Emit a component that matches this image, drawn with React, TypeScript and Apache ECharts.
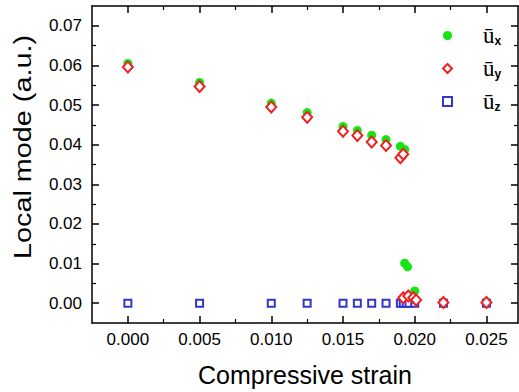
import React, { useEffect, useRef } from "react";
import * as echarts from "echarts";

const uxStrain = [0, 0.005, 0.010, 0.0125, 0.015, 0.016, 0.017, 0.018, 0.019, 0.0193, 0.0193, 0.0195, 0.020, 0.022, 0.025];
const uxValues = [0.0605, 0.0557, 0.0505, 0.0481, 0.0446, 0.0436, 0.0424, 0.0413, 0.0396, 0.0388, 0.0101, 0.0092, 0.0031, 0.0003, 0.0003];

const uyStrain = [0, 0.005, 0.010, 0.0125, 0.015, 0.016, 0.017, 0.018, 0.019, 0.0192, 0.0192, 0.01955, 0.0199, 0.0201, 0.022, 0.025];
const uyValues = [0.0596, 0.0547, 0.0495, 0.0469, 0.0434, 0.0423, 0.0407, 0.0398, 0.0367, 0.0376, 0.0014, 0.0018, 0.0014, 0.0008, 0.0002, 0.0002];

const uzStrain = [0, 0.005, 0.010, 0.0125, 0.015, 0.016, 0.017, 0.018, 0.019, 0.0192, 0.0194, 0.0196, 0.020, 0.022, 0.025];
const uzValues = [0, 0, 0, 0, 0, 0, 0, 0, 0, 0, 0, 0, 0, 0, 0];

const xTicks = ["0.000", "0.005", "0.010", "0.015", "0.020", "0.025"];
const yTicks = ["0.00", "0.01", "0.02", "0.03", "0.04", "0.05", "0.06", "0.07"];
const xMinorTicks = [0.0025, 0.0075, 0.0125, 0.0175, 0.0225];
const yMinorTicks = [0.005, 0.015, 0.025, 0.035, 0.045, 0.055, 0.065];

const seriesNames = ["ux", "uy", "uz"];
const subscripts: Record<string, string> = { ux: "x", uy: "y", uz: "z" };

const pairs = (xs: number[], ys: number[]) => xs.map((x, i) => [x, ys[i]]);

export default function App() {
  const ref = useRef<HTMLDivElement>(null);
  useEffect(() => {
    if (!ref.current) return;
    const chart = echarts.init(ref.current, undefined, { renderer: "svg" });
    const xMajor = xTicks.map((t) => parseFloat(t));
    const yMajor = yTicks.map((t) => parseFloat(t));
    const font = "Liberation Sans, Arial, sans-serif";
    const axisLabelFont = { fontFamily: font, fontSize: 17, color: "#000" };
    const lineOn = { show: true, onZero: false, lineStyle: { color: "#000", width: 1.5 } };
    const lineOff = { show: false, onZero: false };
    const majorTick = (vals: number[]) => ({ show: true, inside: true, length: 7, customValues: vals, lineStyle: { color: "#000", width: 1.5 } });
    const minorTickStyle = (vals: number[]) => ({ show: true, inside: true, length: 4, customValues: vals, lineStyle: { color: "#000", width: 1.2 } });
    const xExt = { type: "value" as const, min: -0.0025, max: 0.0272, splitLine: { show: false } };
    const yExt = { type: "value" as const, min: -0.005, max: 0.075, splitLine: { show: false } };
    const xLabelMap = (v: number) => {
      const i = xMajor.findIndex((m) => Math.abs(m - v) < 1e-9);
      return i >= 0 ? xTicks[i] : "";
    };
    const yLabelMap = (v: number) => {
      const i = yMajor.findIndex((m) => Math.abs(m - v) < 1e-9);
      return i >= 0 ? yTicks[i] : "";
    };
    chart.setOption({
      animation: false,
      backgroundColor: "#fff",
      grid: { left: 92, right: 1, top: 6, bottom: 69, containLabel: false },
      xAxis: [
        {
          ...xExt,
          position: "bottom",
          axisLine: lineOn,
          axisTick: majorTick(xMajor),
          axisLabel: { ...axisLabelFont, margin: 8, customValues: xMajor, formatter: xLabelMap },
          name: "Compressive strain",
          nameLocation: "middle",
          nameGap: 39,
          nameTextStyle: { fontFamily: font, fontSize: 25, color: "#000" },
        },
        { ...xExt, position: "bottom", axisLine: lineOff, axisTick: minorTickStyle(xMinorTicks), axisLabel: { show: false } },
        { ...xExt, position: "top", axisLine: lineOn, axisTick: majorTick(xMajor), axisLabel: { show: false } },
        { ...xExt, position: "top", axisLine: lineOff, axisTick: minorTickStyle(xMinorTicks), axisLabel: { show: false } },
      ],
      yAxis: [
        {
          ...yExt,
          position: "left",
          axisLine: lineOn,
          axisTick: majorTick(yMajor),
          axisLabel: { ...axisLabelFont, margin: 10, customValues: yMajor, formatter: yLabelMap },
        },
        { ...yExt, position: "left", axisLine: lineOff, axisTick: minorTickStyle(yMinorTicks), axisLabel: { show: false } },
        { ...yExt, position: "right", axisLine: lineOn, axisTick: majorTick(yMajor), axisLabel: { show: false } },
        { ...yExt, position: "right", axisLine: lineOff, axisTick: minorTickStyle(yMinorTicks), axisLabel: { show: false } },
      ],
      legend: {
        orient: "vertical",
        left: 437,
        top: 18,
        itemWidth: 9,
        itemHeight: 9,
        itemGap: 9,
        data: seriesNames,
        formatter: (name: string) => `{u|ū}{s|${subscripts[name]}}`,
        textStyle: {
          padding: [0, 0, 0, 26],
          rich: {
            u: { fontFamily: "Liberation Serif, serif", fontSize: 23, color: "#000", lineHeight: 23 },
            s: { fontFamily: font, fontSize: 12, fontWeight: "bold", color: "#000", lineHeight: 23, verticalAlign: "bottom", padding: [12, 0, 0, 0] },
          },
        },
      },
      graphic: [
        {
          type: "text",
          x: 22.5,
          y: 147,
          rotation: Math.PI / 2,
          scaleX: 1.2,
          style: {
            text: "Local mode (a.u.)",
            fontFamily: font,
            fontSize: 24,
            fill: "#000",
            align: "center",
            verticalAlign: "middle",
          },
        },
      ],
      series: [
        {
          name: "ux",
          type: "scatter",
          xAxisIndex: 0,
          yAxisIndex: 0,
          z: 2,
          symbol: "circle",
          symbolSize: 9,
          itemStyle: { color: "#14e614", opacity: 1 },
          data: pairs(uxStrain, uxValues),
        },
        {
          name: "uy",
          type: "scatter",
          xAxisIndex: 0,
          yAxisIndex: 0,
          z: 4,
          symbol: "emptyDiamond",
          symbolSize: [10, 11],
          itemStyle: { color: "#f02020", borderColor: "#f02020", borderWidth: 1.5, opacity: 1 },
          data: pairs(uyStrain, uyValues),
        },
        {
          name: "uz",
          type: "scatter",
          xAxisIndex: 0,
          yAxisIndex: 0,
          z: 3,
          symbol: "emptyRect",
          symbolSize: 7,
          itemStyle: { color: "#3535cc", borderColor: "#3535cc", borderWidth: 1, opacity: 1 },
          data: pairs(uzStrain, uzValues),
        },
      ],
    });
    return () => chart.dispose();
  }, []);
  return <div ref={ref} style={{ width: 519, height: 392, position: "absolute", left: 0, top: 0 }} />;
}
